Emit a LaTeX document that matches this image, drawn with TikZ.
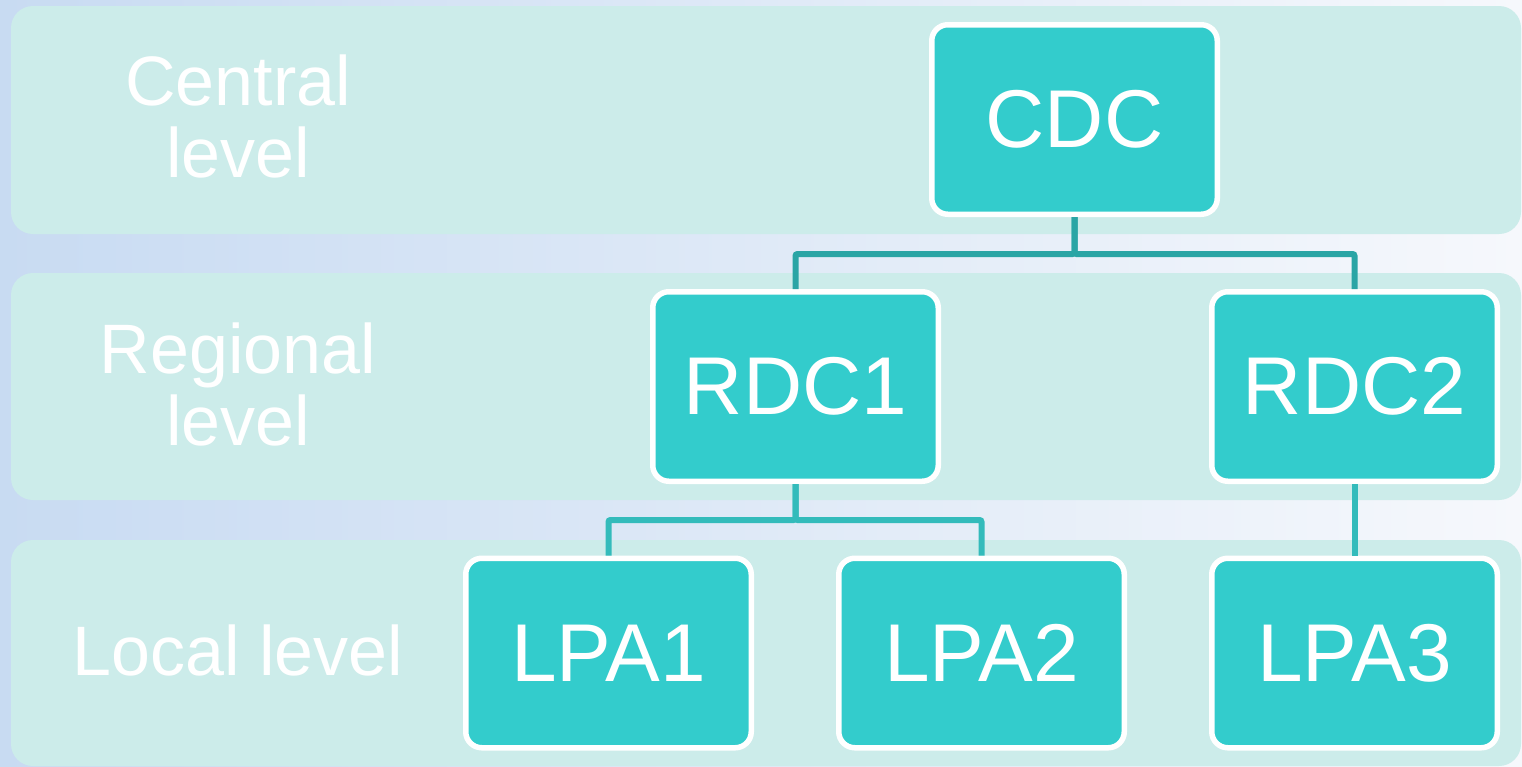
\documentclass[tikz,border=0pt]{standalone}
\usepackage{fontspec}
\setmainfont{Liberation Sans}
\definecolor{bgleft}{HTML}{C8DBF2}
\definecolor{bgright}{HTML}{F6F8FC}
\definecolor{bandfill}{HTML}{CCECEA}
\definecolor{boxfill}{HTML}{33CCCC}
\definecolor{linkdark}{HTML}{2AA5A5}
\definecolor{linklight}{HTML}{33BBBB}
\begin{document}
\begin{tikzpicture}[x=1pt,y=-1pt,
  band/.style={fill=bandfill, rounded corners=22pt},
  levellabel/.style={text=white, font=\fontsize{70}{72}\selectfont, align=center, inner sep=0pt},
  unit/.style={draw=white, line width=5.5pt, fill=boxfill, rounded corners=16pt,
    minimum width=285.5pt, minimum height=189.5pt, inner sep=0pt, text=white,
    font=\fontsize{82}{90}\selectfont},
  link/.style={line width=6pt, rounded corners=2pt}]
  \useasboundingbox (0,0) rectangle (1522,766);
  % background
  \shade[left color=bgleft, right color=bgright] (0,0) rectangle (1522,766);
  % level bands
  \fill[band] (11,6) rectangle (1521,234);
  \fill[band] (11,273) rectangle (1521,500);
  \fill[band] (11,540) rectangle (1521,766);
  % level labels
  \node[levellabel] (central) at (238,116.5) {Central\\level};
  \node[levellabel] (regional) at (238,384) {Regional\\level};
  \node[levellabel] (local) at (238,650) {Local level};
  % organisation units
  \node[unit] (cdc) at (1074.5,119.5) {CDC};
  \node[unit] (rdc1) at (795.5,386.5) {RDC1};
  \node[unit] (rdc2) at (1354.5,386.5) {RDC2};
  \node[unit] (lpa1) at (608.5,653) {LPA1};
  \node[unit] (lpa2) at (981.5,653) {LPA2};
  \node[unit] (lpa3) at (1354.5,653) {LPA3};
  % hierarchy links
  \draw[link, linkdark] (cdc.south) -- ++(0,37) -| (rdc1.north);
  \draw[link, linkdark] (cdc.south) -- ++(0,37) -| (rdc2.north);
  \draw[link, linklight] (rdc1.south) -- ++(0,36) -| (lpa1.north);
  \draw[link, linklight] (rdc1.south) -- ++(0,36) -| (lpa2.north);
  \draw[link, linklight] (rdc2.south) -- (lpa3.north);
\end{tikzpicture}
\end{document}
